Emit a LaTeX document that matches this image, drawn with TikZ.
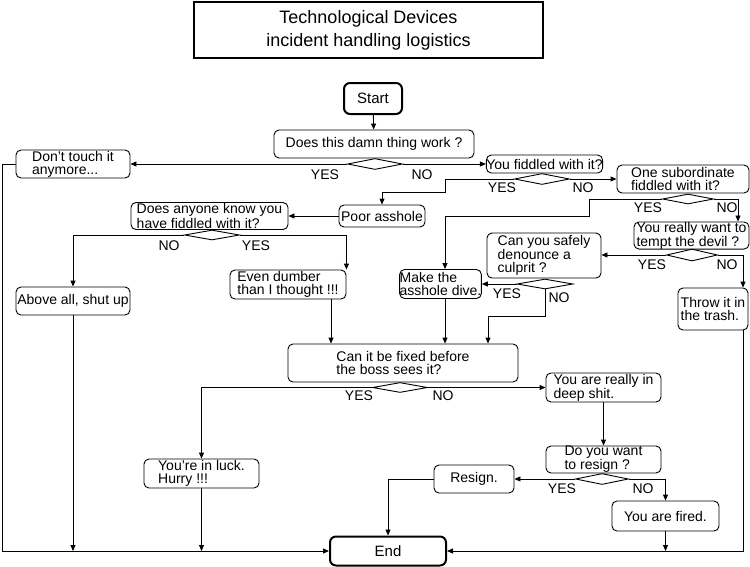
\documentclass[tikz,border=0pt]{standalone}
\usepackage{fontspec}
\setmainfont{Liberation Sans}
\usetikzlibrary{shapes.geometric,arrows.meta}
\begin{document}
\begin{tikzpicture}[x=1pt,y=-1pt,
 box/.style={draw, rounded corners=5pt, inner sep=0pt, align=left, font=\fontsize{14}{13}\selectfont, line width=0.9pt},
 term/.style={box, line width=2pt, rounded corners=6pt, align=center, font=\fontsize{15}{15}\selectfont},
 dia/.style={draw, diamond, fill=white, inner sep=0pt, line width=0.9pt},
 conn/.style={line width=0.9pt, -{Triangle[length=6pt,width=5pt]}},
 plain/.style={line width=0.9pt},
 lbl/.style={font=\fontsize{14}{14}\selectfont, inner sep=0pt}
]
\useasboundingbox (0,0) rectangle (750,566);
% title
\node[draw, line width=1.2pt, minimum width=349, minimum height=56, inner sep=0pt, align=center, font=\fontsize{18}{23}\selectfont] (title) at (368.5,30) {Technological Devices\\incident handling logistics};
% boxes
\node[term, minimum width=58, minimum height=31] (start) at (373,98.5) {Start};
\node[box, minimum width=200, minimum height=28, align=center] (does) at (374,144) {Does this damn thing work ?};
\node[box, minimum width=114, minimum height=28] (dt) at (73,164) {Don't touch it\\anymore...};
\node[box, minimum width=115, minimum height=18, align=center] (fid) at (544.5,164) {You fiddled with it?};
\node[box, minimum width=86, minimum height=22, align=center] (po) at (382,216) {Poor asshole};
\node[box, minimum width=157, minimum height=27] (da) at (209.5,216) {Does anyone know you\\have fiddled with it?};
\node[box, minimum width=114, minimum height=28, align=center] (ab) at (73,301) {Above all, shut up};
\node[box, minimum width=116, minimum height=29] (ed) at (288,284.5) {Even dumber\\than I thought !!!};
\node[box, minimum width=79, minimum height=29] (mk) at (440.5,284) {Make the\\asshole dive.};
\node[box, minimum width=132, minimum height=28] (os) at (683,179) {One subordinate\\fiddled with it?};
\node[box, minimum width=115, minimum height=27] (yr) at (691.5,235.5) {You really want to\\tempt the devil ?};
\node[box, minimum width=114, minimum height=45] (cs) at (544,255.5) {Can you safely\\denounce a\\culprit ?};
\node[box, minimum width=70, minimum height=42] (th) at (713,309) {Throw it in\\the trash.};
\node[box, minimum width=230, minimum height=38] (cf) at (403,363) {Can it be fixed before\\the boss sees it?};
\node[box, minimum width=115, minimum height=29] (lu) at (201.5,473.5) {You're in luck.\\Hurry !!!};
\node[box, minimum width=115, minimum height=29] (rd) at (603.5,387.5) {You are really in\\deep shit.};
\node[box, minimum width=115, minimum height=27] (rs) at (603.5,459.5) {Do you want\\to resign ?};
\node[box, minimum width=80, minimum height=28, align=center] (rg) at (474,479) {Resign.};
\node[box, minimum width=107, minimum height=30, align=center] (fi) at (665.5,516) {You are fired.};
\node[term, minimum width=116, minimum height=29] (end) at (388,551) {End};
% decision diamonds
\node[dia, minimum width=55, minimum height=11] (d1) at (375,164) {};
\node[dia, minimum width=55, minimum height=11] (d2) at (542,179) {};
\node[dia, minimum width=55, minimum height=10] (d3) at (212,235) {};
\node[dia, minimum width=51, minimum height=10] (d4) at (688,199) {};
\node[dia, minimum width=51, minimum height=12] (d5) at (692,255) {};
\node[dia, minimum width=56, minimum height=10] (d6) at (545,284) {};
\node[dia, minimum width=55, minimum height=10] (d7) at (400,387.5) {};
\node[dia, minimum width=53, minimum height=11] (d8) at (602,479) {};
% connectors
\draw[conn] (start) -- (does);
\draw[conn] (d1.west) -- (d1.west -| dt.east);
\draw[conn] (d1.east) -- (d1.east -| fid.west);
\draw[conn] (d2.west) -- ++(-68.5,0) -- ++(0,13) -| (po.north);
\draw[conn] (d2.east) -- (d2.east -| os.west);
\draw[conn] (po.west) -- (po.west -| da.east);
\draw[conn] (d3.west) -| (ab.north);
\draw[conn] (d3.east) -| (ed.north east);
\draw[conn] (ab.south) -- (ab.south |- end.west);
\draw[conn] (dt.west) -- ++(-13,0) |- (end.west);
\draw[conn] ([xshift=43pt]ed.south) -- ([xshift=43pt]ed.south |- cf.north);
\draw[conn] (d4.west) -- ++(-73,0) -- ++(0,17) -| ([xshift=4.5pt]mk.north);
\draw[conn] (d4.east) -| ([xshift=46.5pt]yr.north);
\draw[conn] (d5.west) -- (d5.west -| cs.east);
\draw[conn] (d5.east) -| ([xshift=30pt]th.north);
\draw[conn] (d6.west) -- (d6.west -| mk.east);
\draw[conn] (d6.south) -- ++(0,27) -| ([xshift=85pt]cf.north);
\draw[conn] ([xshift=4.5pt]mk.south) -- ([xshift=4.5pt]mk.south |- cf.north);
\draw[conn] (d7.west) -| (lu.north);
\draw[conn] (d7.east) -- (d7.east -| rd.west);
\draw[conn] (lu.south) -- (lu.south |- end.west);
\draw[conn] (rd.south) -- (rs.north);
\draw[conn] (d8.west) -- (d8.west -| rg.east);
\draw[conn] (d8.east) -| (fi.north);
\draw[conn] (rg.west) -| (end.north);
\draw[conn] (fi.south) -- (fi.south |- end.east);
\draw[conn] ([xshift=30pt]th.south) |- (end.east);
% labels
\node[lbl] (y1) at (325,175) {YES}; \node[lbl] (n1) at (422,175) {NO};
\node[lbl] (y2) at (502,188) {YES}; \node[lbl] (n2) at (583,188) {NO};
\node[lbl] (n3) at (169,246) {NO}; \node[lbl] (y3) at (256,246) {YES};
\node[lbl] (y4) at (648,208) {YES}; \node[lbl] (n4) at (727,208) {NO};
\node[lbl] (y5) at (652,265) {YES}; \node[lbl] (n5) at (727,265) {NO};
\node[lbl] (y6) at (507,294) {YES}; \node[lbl] (n6) at (559,298) {NO};
\node[lbl] (y7) at (359,396) {YES}; \node[lbl] (n7) at (443,396) {NO};
\node[lbl] (y8) at (562,489) {YES}; \node[lbl] (n8) at (643,489) {NO};
\end{tikzpicture}
\end{document}
